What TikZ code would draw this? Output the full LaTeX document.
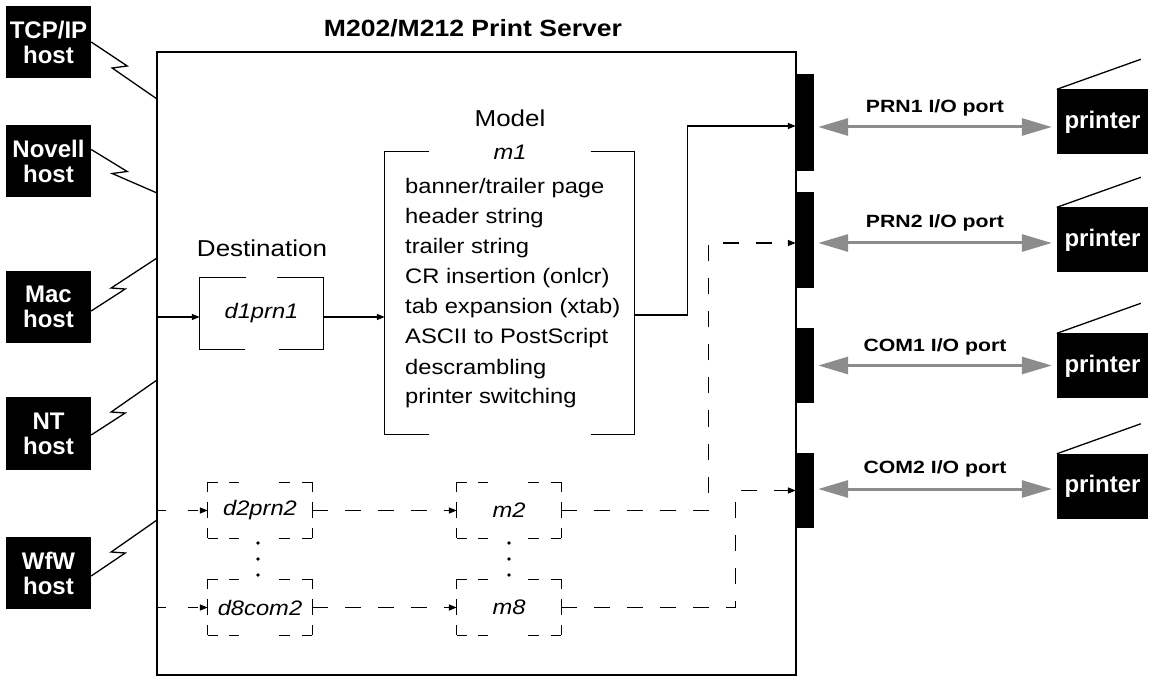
\documentclass[tikz,border=0pt]{standalone}
\usepackage{fontspec}
\setmainfont{Liberation Sans}
\newfontfamily\wfont{Liberation Sans}[FakeStretch=1.13]
\newfontfamily\pfont{Liberation Sans}[FakeStretch=1.2]
\usetikzlibrary{arrows.meta}
\definecolor{linkgray}{RGB}{140,140,140}

\tikzset{
  host/.style={fill=black, text=white, minimum width=85, minimum height=72, inner sep=0,
    align=center, font=\bfseries\fontsize{24}{25}\selectfont},
  printer/.style={fill=black, text=white, minimum width=91, minimum height=65, inner sep=0,
    font=\bfseries\fontsize{24}{25}\selectfont},
  port/.style={fill=black, minimum width=18, inner sep=0},
  portlabel/.style={font=\pfont\bfseries\fontsize{17.7}{20}\selectfont, anchor=base, inner sep=0},
  body/.style={font=\wfont\fontsize{21}{30}\selectfont, inner sep=0},
  heading/.style={font=\wfont\fontsize{23}{28}\selectfont, anchor=base, inner sep=0},
  dbox/.style={minimum width=104, minimum height=56, inner sep=0,
    font=\wfont\itshape\fontsize{21}{30}\selectfont},
  conn/.style={line width=1.3pt, -{Triangle[length=8pt,width=6pt]}},
  dconn/.style={conn, dash pattern=on 16pt off 17pt},
  zig/.style={line width=1.3pt},
  link/.style={draw=linkgray, line width=3pt,
    {Triangle[length=30pt,width=17pt]}-{Triangle[length=30pt,width=17pt]},
    shorten <=4pt, shorten >=5pt},
  hpat/.style={line width=1.3pt, dash pattern=on 10pt off 11pt on 10pt off 40pt on 11pt off 12pt on 10pt off 2pt},
  vpat/.style={line width=1.3pt, dash pattern=on 10pt off 10pt on 16pt off 10pt on 10pt off 2pt},
}

% corners of a dashed box round a node
\newcommand\dashedbox[1]{%
  \draw[hpat] (#1.north west) -- (#1.north east);
  \draw[hpat] (#1.south west) -- (#1.south east);
  \draw[vpat] (#1.north west) -- (#1.south west);
  \draw[vpat] (#1.north east) -- (#1.south east);}
% solid box with a gap in the top and bottom lines
\newcommand\gapbox[3]{%
  \draw[line width=1.3pt] ([xshift=-#2pt]#1.north) -| (#1.south west) -- ([xshift=-#3pt]#1.south);
  \draw[line width=1.3pt] ([xshift=#2pt]#1.north) -| (#1.south east) -- ([xshift=#3pt]#1.south);}

\begin{document}
\begin{tikzpicture}[x=1pt, y=-1pt]
  \useasboundingbox (0,0) rectangle (1152,676);

  % server box
  \node[draw, line width=2pt, minimum width=639, minimum height=623, inner sep=0] (server) at (476.5,363.5) {};
  \node[font=\wfont\bfseries\fontsize{23.5}{28}\selectfont, anchor=base, inner sep=0] (title) at (473,37) {M202/M212 Print Server};

  % hosts
  \node[host] (tcp) at (48.5,42) {TCP/IP\\host};
  \node[host] (novell) at (48.5,161.5) {Novell\\host};
  \node[host] (mac) at (48.5,307) {Mac\\host};
  \node[host] (nt) at (48.5,433.5) {NT\\host};
  \node[host] (wfw) at (48.5,573) {WfW\\host};

  \coordinate (s1) at (157,99);
  \coordinate (s2) at (157,193);
  \coordinate (s3) at (157,258);
  \coordinate (s4) at (157,380);
  \coordinate (s5) at (157,520);
  \draw[zig] (tcp.east) -- ++(36,24) -- ++(-15,2) -- (s1);
  \draw[zig] ([yshift=12pt]novell.east) -- ++(36,22) -- ++(-15,2) -- (s2);
  \draw[zig] ([yshift=-4pt]mac.east) -- ++(34,-22) -- ++(-14,-1) -- (s3);
  \draw[zig] ([yshift=-1.5pt]nt.east) -- ++(34,-22) -- ++(-14,-1) -- (s4);
  \draw[zig] ([yshift=-3pt]wfw.east) -- ++(34,-23) -- ++(-14,-1) -- (s5);

  % destination and model
  \node[heading] (destlabel) at (262,257) {Destination};
  \node[dbox, minimum width=123, minimum height=71] (d1) at (261.5,313.5) {d1prn1};
  \gapbox{d1}{15.5}{17}

  \node[heading] (modellabel) at (510,127) {Model};
  \node[minimum width=249, minimum height=282, inner sep=0] (m1) at (509.5,293) {};
  \gapbox{m1}{81}{81}
  \node[body, font=\wfont\itshape\fontsize{21}{30}\selectfont, anchor=base] (m1name) at (510,160) {m1};
  \foreach \txt [count=\i] in {{banner/trailer page},{header string},{trailer string},
      {CR insertion (onlcr)},{tab expansion (xtab)},{ASCII to PostScript},
      {descrambling},{printer switching}}
    \node[body, anchor=base west] (feat\i) at (405,{164+30*\i}) {\txt};

  \node[dbox] (d2) at (260,510.5) {d2prn2};
  \node[dbox] (d8) at (260,607.5) {d8com2};
  \node[dbox] (m2) at (509,510.5) {m2};
  \node[dbox] (m8) at (509,607.5) {m8};
  \dashedbox{d2}
  \dashedbox{d8}
  \dashedbox{m2}
  \dashedbox{m8}
  \foreach \y in {543,559,575} {
    \fill (258,\y) circle[radius=1.8pt];
    \fill (509,\y) circle[radius=1.8pt];
  }

  % I/O ports
  \node[port, minimum height=97] (p1) at (805,122.5) {};
  \node[port, minimum height=96] (p2) at (805,240) {};
  \node[port, minimum height=75] (p3) at (805,365.5) {};
  \node[port, minimum height=75] (p4) at (805,490.5) {};

  % printers
  \node[printer] (pr1) at (1102.5,122) {printer};
  \node[printer] (pr2) at (1102.5,240) {printer};
  \node[printer] (pr3) at (1102.5,366) {printer};
  \node[printer] (pr4) at (1102.5,486.5) {printer};
  \foreach \n in {pr1,pr2,pr3,pr4}
    \draw[zig] (\n.north west) -- ++(84,-30);

  \coordinate (g1) at ([yshift=-4.5pt]p1.east);
  \coordinate (g2) at ([yshift=-3pt]p2.east);
  \coordinate (g3) at (p3.east);
  \coordinate (g4) at ([yshift=1.5pt]p4.east);
  \draw[link] (g1) -- (g1 -| pr1.west);
  \draw[link] (g2) -- (g2 -| pr2.west);
  \draw[link] (g3) -- (g3 -| pr3.west);
  \draw[link] (g4) -- (g4 -| pr4.west);
  \node[portlabel] (l1) at (935,113) {PRN1 I/O port};
  \node[portlabel] (l2) at (935,228) {PRN2 I/O port};
  \node[portlabel] (l3) at (935,352) {COM1 I/O port};
  \node[portlabel] (l4) at (935,473) {COM2 I/O port};

  % connections
  \coordinate (d1in) at ([yshift=-3.5pt]d1.west);
  \draw[conn] (server.west |- d1in) -- (d1in);
  \draw[conn] ([yshift=-3.5pt]d1.east) -- (m1.west |- d1in);
  \draw[conn] ([yshift=-22pt]m1.east) -- ++(53,0) |- ([yshift=-3.5pt]p1.west);

  \draw[dconn, dash pattern=on 10pt off 22pt] (server.west |- d2) -- (d2.west);
  \draw[dconn, dash pattern=on 10pt off 22pt] (server.west |- d8) -- (d8.west);
  \draw[dconn] (d2.east) -- (m2.west);
  \draw[dconn] (d8.east) -- (m8.west);
  \draw[dconn] (m2.east) -- ++(147,0) |- ([yshift=-3pt]p2.west);
  \draw[dconn] (m8.east) -- ++(174,0) |- (p4.west);
\end{tikzpicture}
\end{document}
